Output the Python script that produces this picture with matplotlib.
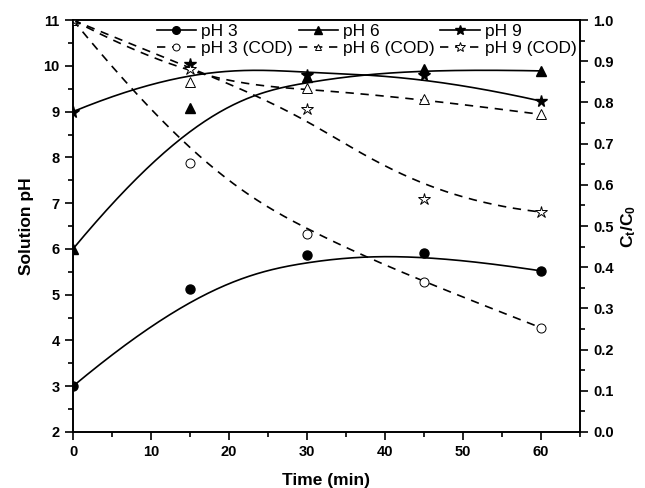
import numpy as np
import matplotlib
matplotlib.use("Agg")
import matplotlib.pyplot as plt
from matplotlib.ticker import MultipleLocator

plt.rcParams['font.family'] = ['Liberation Sans', 'DejaVu Sans']
plt.rcParams['mathtext.default'] = 'regular'

# sampling times (min)
time = [0, 15, 30, 45, 60]

# solution pH
ph3 = [3.0, 5.13, 5.87, 5.91, 5.52]
ph6 = [6.0, 9.08, 9.75, 9.94, 9.89]
ph9 = [9.0, 10.05, 9.80, 9.80, 9.23]

# COD ratio Ct/C0
cod3 = [1.0, 0.653, 0.480, 0.364, 0.253]
cod6 = [1.0, 0.850, 0.834, 0.808, 0.771]
cod9 = [1.0, 0.882, 0.783, 0.566, 0.534]


def bspline(px, py, k=3, n=300):
    # clamped B-spline using the data points as control points
    px = np.asarray(px, float)
    py = np.asarray(py, float)
    m = len(px)
    knots = np.concatenate([np.zeros(k), np.linspace(0, 1, m - k + 1), np.ones(k)])
    u = np.linspace(0, 1, n)

    def basis(i, d):
        if d == 0:
            b = ((knots[i] <= u) & (u < knots[i + 1])).astype(float)
            if knots[i] < knots[i + 1] == 1.0:
                b[u == 1.0] = 1.0
            return b
        out = np.zeros_like(u)
        den1 = knots[i + d] - knots[i]
        den2 = knots[i + d + 1] - knots[i + 1]
        if den1 > 0:
            out += (u - knots[i]) / den1 * basis(i, d - 1)
        if den2 > 0:
            out += (knots[i + d + 1] - u) / den2 * basis(i + 1, d - 1)
        return out

    N = np.array([basis(i, k) for i in range(m)])
    return N.T @ px, N.T @ py


fig = plt.figure(figsize=(6.45, 4.88), dpi=100)
ax = fig.add_axes([0.1132, 0.1148, 0.786, 0.844])
ax2 = ax.twinx()

dash = (0, (5, 4))
handles = []
for y, mk, lbl in [(ph3, 'o', 'pH 3'), (ph6, '^', 'pH 6'), (ph9, '*', 'pH 9')]:
    ms = 8.5 if mk == '*' else 6.5
    ax.plot(*bspline(time, y), color='black', lw=1.2)
    ax.plot(time, y, mk, color='black', ms=ms, ls='none')
    h, = ax.plot([], [], color='black', lw=1.2, marker=mk, ms=ms - 1, label=lbl)
    handles.append(h)

for y, mk, lbl in [(cod3, 'o', 'pH 3 (COD)'), (cod6, '^', 'pH 6 (COD)'),
                   (cod9, '*', 'pH 9 (COD)')]:
    ms = 9 if mk == '*' else 6.5
    ax2.plot(*bspline(time, y), color='black', lw=1.2, ls=dash)
    ax2.plot(time, y, mk, mfc='white', mec='black', mew=0.7, ms=ms, ls='none')
    h, = ax2.plot([], [], color='black', lw=1.2, ls=dash, marker=mk,
                  mfc='white', mec='black', mew=0.7, ms=ms - 1.5, label=lbl)
    handles.append(h)

ax.set_xlim(0, 65)
ax.set_ylim(2, 11)
ax2.set_ylim(0, 1.0)
ax.xaxis.set_major_locator(MultipleLocator(10))
ax.xaxis.set_minor_locator(MultipleLocator(5))
ax.yaxis.set_major_locator(MultipleLocator(1))
ax.yaxis.set_minor_locator(MultipleLocator(0.5))
ax2.yaxis.set_major_locator(MultipleLocator(0.1))
ax2.yaxis.set_minor_locator(MultipleLocator(0.05))

for a in (ax, ax2):
    a.tick_params(which='both', direction='out', width=1.2)
    a.tick_params(which='major', length=5.5, labelsize=10.5, pad=4)
    a.tick_params(which='minor', length=3.5)
    for lab in a.get_xticklabels() + a.get_yticklabels():
        lab.set_fontweight('bold')
    for s in a.spines.values():
        s.set_linewidth(1.2)

ax.set_xlabel('Time (min)', fontsize=12.5, fontweight='bold', labelpad=10)
ax.set_ylabel('Solution pH', fontsize=12.5, fontweight='bold', labelpad=7)
ax2.set_ylabel('C$_t$/C$_0$', fontsize=12.5, fontweight='bold', labelpad=4)

order = [handles[0], handles[3], handles[1], handles[4], handles[2], handles[5]]
ax.legend(handles=order, labels=[h.get_label() for h in order], ncol=3,
          loc='upper right', bbox_to_anchor=(1.0, 1.0), borderaxespad=0.1,
          borderpad=0.1, frameon=False, fontsize=12.5, columnspacing=0.35,
          handlelength=2.25, handletextpad=0.3, labelspacing=0.1)

fig.savefig('out.png', dpi=100)
